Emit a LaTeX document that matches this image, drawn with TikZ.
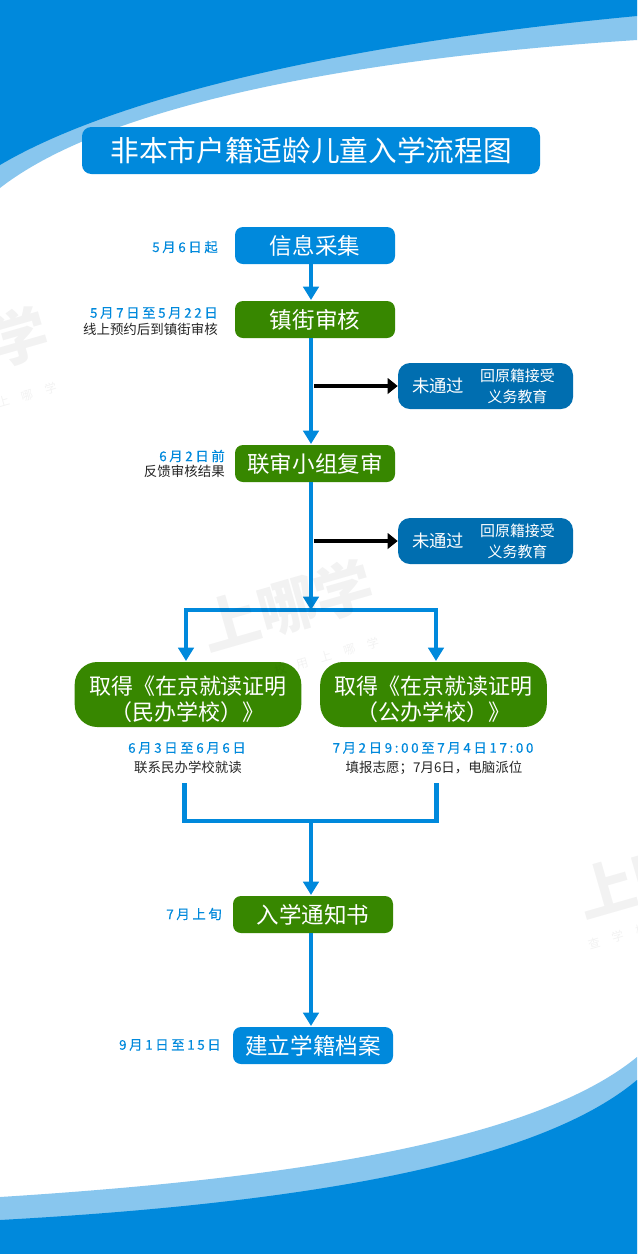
\documentclass[tikz,border=0pt]{standalone}
\usepackage{fontspec}
\setmainfont{Noto Sans CJK SC}
\newfontfamily\datefont[LetterSpace=20,FakeBold=0.3]{Noto Sans CJK SC}
\newfontfamily\markfont[LetterSpace=105]{Noto Sans CJK SC}
\usetikzlibrary{arrows.meta}
\definecolor{skyblue}{HTML}{0089DC}
\definecolor{paleblue}{HTML}{88C6EE}
\definecolor{deepblue}{HTML}{006EB0}
\definecolor{leafgreen}{HTML}{378700}
\def\certstrut{\rule{0pt}{21pt}}
\tikzset{
	stepbox/.style={rounded corners=6, text=white, inner sep=0, minimum width=120, minimum height=27.75, font=\fontsize{16.9}{20}\selectfont},
	bluebox/.style={stepbox, fill=skyblue},
	greenbox/.style={stepbox, fill=leafgreen},
	failbox/.style={rounded corners=9, fill=deepblue, text=white, inner sep=0, minimum width=131.25, minimum height=34.5},
	certbox/.style={rounded corners=17, fill=leafgreen, text=white, inner sep=0, minimum width=170, minimum height=48.75, align=center, font=\fontsize{16.5}{19}\selectfont},
	datelabel/.style={text=skyblue, inner sep=0, font=\datefont\fontsize{10}{12}\selectfont},
	notelabel/.style={text=black!85, inner sep=0, font=\fontsize{10.1}{12}\selectfont},
	flow/.style={draw=skyblue, line width=3.6, -{Triangle[length=10,width=11.5]}},
	joinline/.style={draw=skyblue, line width=3.6},
	failarrow/.style={draw=black, line width=3.6, -{Triangle[length=7.5,width=11.5]}},
	bigmark/.style={text=black, text opacity=0.05, rotate=16, inner sep=0, font=\bfseries\fontsize{44}{46}\selectfont},
	smallmark/.style={text=black, text opacity=0.05, rotate=16, inner sep=0, font=\markfont\fontsize{9}{11}\selectfont},
}
\begin{document}
\begin{tikzpicture}[x=0.75,y=-0.75]
	%%%%% BACKGROUND %%%%%
	\useasboundingbox (0, 0) rectangle (637, 1254);
	\fill[white] (0, 0) rectangle (637, 1254);
	
	\fill[paleblue] (0, 0) -- (0, 188) .. controls (100, 110) and (330, 60) .. (637, 40) -- (637, 0) -- cycle;
	\fill[skyblue] (0, 0) -- (0, 165) .. controls (110, 100) and (330, 45) .. (637, 16) -- (637, 0) -- cycle;
	
	\fill[paleblue] (0, 1254) -- (0, 1197) .. controls (270, 1180) and (530, 1145) .. (637, 1057) -- (637, 1254) -- cycle;
	\fill[skyblue] (0, 1254) -- (0, 1220) .. controls (270, 1205) and (530, 1170) .. (637, 1080) -- (637, 1254) -- cycle;
	
	%%%%% TITLE %%%%%
	\node[rounded corners=7, fill=skyblue, text=white, inner sep=0, minimum width=343.5, minimum height=35.25, font=\fontsize{21.5}{24}\selectfont] (title) at (311, 150.5) {非本市户籍适龄儿童入学流程图};
	
	%%%%% STEPS %%%%%
	\node[bluebox] (collect) at (315, 245.5) {信息采集};
	\node[greenbox] (street) at (315, 319.5) {镇街审核};
	\node[greenbox] (panel) at (315, 463.5) {联审小组复审};
	\node[greenbox] (notice) at (313, 914.5) {入学通知书};
	\node[bluebox] (archive) at (313, 1045.5) {建立学籍档案};
	
	\node[certbox] (private) at (188, 694.5) {\certstrut 取得《在京就读证明\\（民办学校）》};
	\node[certbox] (public) at (433.5, 694.5) {\certstrut 取得《在京就读证明\\（公办学校）》};
	
	\node[failbox] (failone) at (485.5, 386) {};
	\node[failbox] (failtwo) at (485.5, 541) {};
	\foreach \failname in {failone, failtwo} {
		\node[text=white, inner sep=0, font=\fontsize{13}{15}\selectfont] at ([xshift=-35.5]\failname.center) {未通过};
		\node[text=white, inner sep=0, align=center, font=\fontsize{11.2}{15.5}\selectfont] at ([xshift=24]\failname.center) {回原籍接受\\义务教育};
	}
	
	%%%%% LABELS %%%%%
	\node[datelabel, anchor=east] (dateone) at (218, 247) {5月6日起};
	\node[datelabel, anchor=east] (datetwo) at (218, 313) {5月7日至5月22日};
	\node[notelabel, anchor=east] (notetwo) at (218, 329) {线上预约后到镇街审核};
	\node[datelabel, anchor=east] (datethree) at (225, 456) {6月2日前};
	\node[notelabel, anchor=east] (notethree) at (225, 471) {反馈审核结果};
	\node[datelabel] (datefour) at (187, 748) {6月3日至6月6日};
	\node[notelabel] (notefour) at (188, 767.5) {联系民办学校就读};
	\node[datelabel] (datefive) at (433, 748) {7月2日9:00至7月4日17:00};
	\node[notelabel] (notefive) at (434, 767.5) {填报志愿；7月6日，电脑派位};
	\node[datelabel, anchor=east] (datesix) at (222, 914) {7月上旬};
	\node[datelabel, anchor=east] (dateseven) at (221, 1045) {9月1日至15日};
	
	%%%%% FLOW %%%%%
	\coordinate (split) at (311, 610);
	\coordinate (splitleft) at (186, 610);
	\coordinate (splitright) at (436, 610);
	\coordinate (joinleft) at (184.5, 783);
	\coordinate (joinright) at (436.5, 783);
	\coordinate (joinlow) at (184.5, 821);
	\coordinate (joinhigh) at (436.5, 821);
	\coordinate (joinmid) at (311, 821);
	\coordinate (failonestart) at (314, 386);
	\coordinate (failtwostart) at (314, 541);
	
	\draw[flow] (311, 264) -- (311, 300);
	\draw[flow] (311, 338) -- (311, 444);
	\draw[flow] (311, 482) -- (split);
	\draw[joinline, line cap=rect] (splitleft) -- (splitright);
	\draw[flow] (splitleft) -- (186, 661);
	\draw[flow] (splitright) -- (436, 661);
	\draw[joinline, line join=miter] (joinleft) -- (joinlow) -- (joinhigh) -- (joinright);
	\draw[flow] (joinmid) -- (311, 895);
	\draw[flow] (311, 933) -- (311, 1026);
	\draw[failarrow] (failonestart) -- (failone.west);
	\draw[failarrow] (failtwostart) -- (failtwo.west);
	
	%%%%% WATERMARKS %%%%%
	\begin{scope}
		\clip (0, 0) rectangle (637, 1254);
		\node[bigmark] (markleft) at (18, 337) {学};
		\node[smallmark] (marklefttag) at (27, 395) {上哪学};
		\node[bigmark] (markmiddle) at (287, 606) {上哪学};
		\node[smallmark] (markmiddletag) at (303, 663) {查学校\hspace{8pt}用上哪学};
		\node[bigmark, anchor=west] (markright) at (578, 898) {上哪};
		\node[smallmark, anchor=west] (markrighttag) at (588, 945) {查学校};
	\end{scope}
\end{tikzpicture}
\end{document}
